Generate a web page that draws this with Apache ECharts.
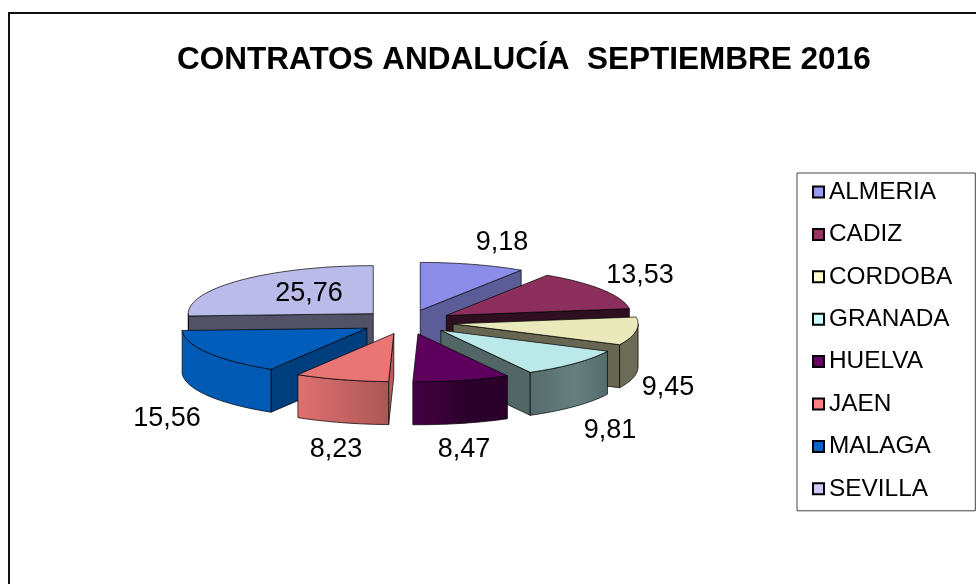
<!DOCTYPE html>
<html>
<head>
<meta charset="utf-8">
<style>
html, body { margin: 0; padding: 0; background: #fff; }
#chart { width: 976px; height: 584px; }
</style>
<script src="https://cdn.jsdelivr.net/npm/echarts@6/dist/echarts.min.js"></script>
</head>
<body>
<div id="chart"></div>
<script>
var categories = ["ALMERIA", "CADIZ", "CORDOBA", "GRANADA", "HUELVA", "JAEN", "MALAGA", "SEVILLA"];
var values = [9.18, 13.53, 9.45, 9.81, 8.47, 8.23, 15.56, 25.76];
var colors = ["#9999FF", "#993366", "#FFFFCC", "#CCFFFF", "#660066", "#FF8080", "#0066CC", "#CCCCFF"];
// centro de cada etiqueta de valor
var labelPos = [[502, 243], [640, 276], [668, 388], [610, 431], [464, 450], [336, 450], [167, 419], [309, 294]];

// parametros de la tarta 3D
var cx = 407, cy = 322, rx = 185, ry = 48, depth = 43, explode = 0.252;
var font = "Liberation Sans";
var total = values.reduce(function (a, b) { return a + b; }, 0);

// angulos acumulados, en grados desde las 12 en sentido horario
var angles = [];
var acc = 0;
values.forEach(function (v) {
  var start = acc / total * 360;
  acc += v;
  angles.push([start, acc / total * 360]);
});

function pt(ox, oy, deg, h) {
  var a = deg * Math.PI / 180;
  return [ox + rx * Math.sin(a), oy - ry * Math.cos(a) + (h || 0)];
}

function shade(hex, k) {
  var n = parseInt(hex.slice(1), 16);
  var r = Math.round((n >> 16 & 255) * k);
  var g = Math.round((n >> 8 & 255) * k);
  var b = Math.round((n & 255) * k);
  return "rgb(" + r + "," + g + "," + b + ")";
}

// brillo de la pared exterior segun el angulo
function wallLight(deg) {
  var table = [[90, 0.42], [115, 0.42], [135, 0.5], [151, 0.42], [165, 0.42], [182, 0.68], [211, 0.88], [240, 0.88], [270, 0.9]];
  for (var i = 1; i < table.length; i++) {
    if (deg <= table[i][0]) {
      var t = (deg - table[i - 1][0]) / (table[i][0] - table[i - 1][0]);
      return table[i - 1][1] + t * (table[i][1] - table[i - 1][1]);
    }
  }
  return 0.9;
}

var edge = { stroke: "rgba(0,0,0,0.7)", lineWidth: 1 };

function cutFace(ox, oy, deg, color) {
  var p = pt(ox, oy, deg);
  return {
    type: "polygon",
    shape: { points: [[ox, oy], p, [p[0], p[1] + depth], [ox, oy + depth]] },
    style: Object.assign({ fill: color }, edge)
  };
}

function renderSlice(i) {
  var a0 = angles[i][0], a1 = angles[i][1];
  var mid = (a0 + a1) / 2 * Math.PI / 180;
  var ox = cx + rx * explode * Math.sin(mid);
  var oy = cy - ry * explode * Math.cos(mid);
  var kids = [];

  // caras de corte visibles
  var cutK = [0.6, 0.3, 0.4, 0.4, 0.6, 0.72, 0.62, 0.4];
  if (Math.sin(a1 * Math.PI / 180) > 0) kids.push(cutFace(ox, oy, a1, shade(colors[i], cutK[i])));
  if (Math.sin(a0 * Math.PI / 180) < 0) kids.push(cutFace(ox, oy, a0, shade(colors[i], cutK[i])));

  // pared exterior, solo la mitad delantera
  var w0 = Math.max(a0, 90), w1 = Math.min(a1, 270);
  if (w1 > w0) {
    var top = [], bottom = [], stops = [];
    var x0 = pt(ox, oy, w0)[0], x1 = pt(ox, oy, w1)[0];
    var xMin = Math.min(x0, x1), xMax = Math.max(x0, x1);
    for (var d = w0; d <= w1 + 0.01; d += (w1 - w0) / 24) {
      var p = pt(ox, oy, d);
      top.push(p);
      bottom.unshift([p[0], p[1] + depth]);
    }
    for (var s = 0; s <= 6; s++) {
      var dd = w0 + (w1 - w0) * s / 6;
      var xs = pt(ox, oy, dd)[0];
      var off = xMax > xMin ? (xs - xMin) / (xMax - xMin) : 0;
      stops.push({ offset: off, color: shade(colors[i], wallLight(dd)) });
    }
    stops.sort(function (a, b) { return a.offset - b.offset; });
    kids.push({
      type: "polygon",
      shape: { points: top.concat(bottom) },
      style: Object.assign({
        fill: new echarts.graphic.LinearGradient(0, 0, 1, 0, stops)
      }, edge)
    });
  }

  // cara superior
  var pts = [[ox, oy]];
  for (var k = 0; k <= 40; k++) {
    pts.push(pt(ox, oy, a0 + (a1 - a0) * k / 40));
  }
  kids.push({
    type: "polygon",
    shape: { points: pts },
    style: Object.assign({ fill: shade(colors[i], 0.915) }, edge)
  });

  // etiqueta con coma decimal
  kids.push({
    type: "text",
    z2: 100,
    style: {
      x: labelPos[i][0],
      y: labelPos[i][1],
      text: values[i].toFixed(2).replace(".", ","),
      align: "center",
      verticalAlign: "middle",
      fill: "#000",
      font: "27px '" + font + "'"
    }
  });
  return { type: "group", children: kids };
}

// orden de pintado: de atras hacia delante
var depthRank = categories.map(function (c, i) {
  return Math.cos((angles[i][0] + angles[i][1]) / 2 * Math.PI / 180);
});

var series = categories.map(function (name, i) {
  var z = 2;
  depthRank.forEach(function (v) { if (v > depthRank[i]) z++; });
  return {
    name: name,
    type: "custom",
    coordinateSystem: "none",
    z: z,
    silent: true,
    itemStyle: { color: colors[i] },
    data: [[values[i]]],
    renderItem: function () { return renderSlice(i); }
  };
});

var myChart = echarts.init(document.getElementById("chart"));
myChart.setOption({
  animation: false,
  backgroundColor: "#fff",
  title: {
    text: "CONTRATOS ANDALUCÍA  SEPTIEMBRE 2016",
    left: 177,
    top: 44,
    padding: 0,
    textStyle: { fontFamily: font, fontSize: 31.5, fontWeight: "bold", color: "#000" }
  },
  legend: {
    orient: "vertical",
    left: 797,
    top: 173,
    padding: [5, 23, 8, 15],
    itemWidth: 11,
    itemHeight: 11,
    itemGap: 14.4,
    selectedMode: false,
    icon: "rect",
    borderColor: "#444",
    borderWidth: 1,
    backgroundColor: "#fff",
    itemStyle: { borderColor: "#000", borderWidth: 2 },
    textStyle: { fontFamily: font, fontSize: 24.4, lineHeight: 28, color: "#000", padding: [0, 0, 0, 0] },
    data: categories
  },
  graphic: [{
    type: "polyline",
    silent: true,
    shape: { points: [[9, 584], [9, 13], [976, 13]] },
    style: { stroke: "#111", lineWidth: 2, fill: null }
  }],
  series: series
});
</script>
</body>
</html>
